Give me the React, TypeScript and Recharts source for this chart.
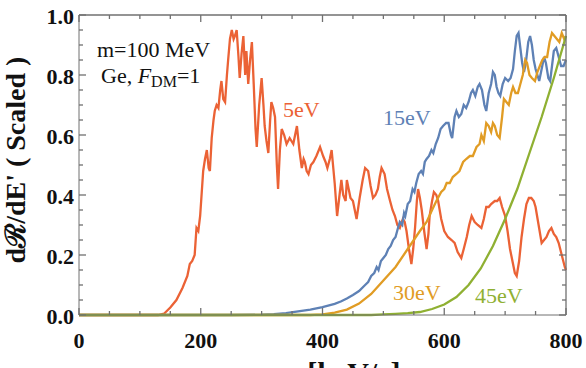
import { LineChart, Line, XAxis, YAxis } from 'recharts';

// [q (keV/c), scaled rate]
const rate5eV: [number, number][] = [
  [0, 0], [100, 0], [130, 0], [140, 0.005], [150, 0.025], [160, 0.05], [170, 0.09], [178, 0.13],
  [182, 0.17], [186, 0.18], [190, 0.2], [193, 0.29], [196, 0.28], [199, 0.33], [202, 0.42], [204, 0.48],
  [207, 0.52], [210, 0.55], [213, 0.49], [215, 0.48], [218, 0.59], [221, 0.65], [223, 0.68], [226, 0.7],
  [229, 0.69], [232, 0.75], [234, 0.78], [237, 0.72], [240, 0.71], [243, 0.8], [245, 0.85], [248, 0.92],
  [251, 0.95], [254, 0.92], [256, 0.93], [259, 0.95], [262, 0.86], [264, 0.79], [267, 0.87], [270, 0.93],
  [273, 0.8], [275, 0.88], [278, 0.77], [281, 0.85], [284, 0.91], [287, 0.77], [290, 0.62], [292, 0.56],
  [296, 0.7], [300, 0.79], [303, 0.7], [305, 0.63], [308, 0.58], [311, 0.54], [314, 0.65], [316, 0.71],
  [319, 0.69], [322, 0.66], [325, 0.5], [327, 0.42], [330, 0.55], [333, 0.62], [337, 0.6], [341, 0.57],
  [346, 0.59], [349, 0.58], [352, 0.57], [355, 0.6], [358, 0.63], [362, 0.55], [366, 0.49], [369, 0.52],
  [371, 0.51], [374, 0.48], [377, 0.47], [381, 0.5], [385, 0.51], [390, 0.53], [396, 0.56], [401, 0.53],
  [405, 0.51], [408, 0.49], [412, 0.52], [415, 0.55], [420, 0.44], [424, 0.33], [428, 0.4], [431, 0.45],
  [434, 0.4], [438, 0.38], [440, 0.45], [443, 0.42], [446, 0.39], [450, 0.38], [456, 0.32], [461, 0.39],
  [466, 0.45], [470, 0.49], [475, 0.48], [479, 0.43], [483, 0.39], [487, 0.4], [491, 0.42], [494, 0.46],
  [497, 0.49], [502, 0.47], [506, 0.42], [511, 0.38], [515, 0.35], [519, 0.33], [523, 0.3], [527, 0.29],
  [532, 0.32], [535, 0.31], [538, 0.28], [542, 0.22], [546, 0.17], [549, 0.22], [552, 0.29], [555, 0.38],
  [557, 0.42], [560, 0.39], [563, 0.35], [567, 0.28], [571, 0.22], [574, 0.27], [576, 0.33], [580, 0.38],
  [583, 0.41], [587, 0.4], [590, 0.38], [595, 0.32], [600, 0.28], [606, 0.26], [612, 0.25], [617, 0.24],
  [622, 0.21], [628, 0.19], [632, 0.22], [637, 0.26], [641, 0.3], [645, 0.33], [650, 0.31], [655, 0.3],
  [661, 0.29], [665, 0.32], [669, 0.36], [673, 0.36], [677, 0.37], [683, 0.38], [687, 0.38], [691, 0.39],
  [695, 0.36], [700, 0.33], [704, 0.28], [708, 0.22], [712, 0.18], [716, 0.14], [719, 0.13], [723, 0.18],
  [727, 0.26], [731, 0.32], [735, 0.37], [739, 0.39], [743, 0.39], [747, 0.38], [750, 0.36], [755, 0.3],
  [760, 0.24], [764, 0.25], [768, 0.26], [772, 0.28], [776, 0.29], [780, 0.27], [784, 0.26], [788, 0.24],
  [793, 0.2], [798, 0.16], [800, 0.15],
];

const rate15eV: [number, number][] = [
  [0, 0], [250, 0], [300, 0.001], [320, 0.003], [340, 0.006], [360, 0.012], [380, 0.018], [400, 0.026],
  [420, 0.037], [430, 0.045], [440, 0.055], [450, 0.067], [460, 0.08], [470, 0.1], [475, 0.11], [480, 0.13],
  [485, 0.14], [489, 0.16], [492, 0.15], [496, 0.18], [500, 0.19], [504, 0.2], [508, 0.22], [512, 0.23],
  [516, 0.25], [520, 0.26], [524, 0.29], [527, 0.31], [531, 0.3], [534, 0.34], [536, 0.33], [540, 0.37],
  [544, 0.38], [548, 0.42], [551, 0.41], [554, 0.44], [558, 0.47], [562, 0.48], [565, 0.47], [568, 0.51],
  [571, 0.52], [575, 0.53], [579, 0.55], [582, 0.54], [586, 0.57], [590, 0.59], [594, 0.62], [598, 0.63],
  [603, 0.64], [607, 0.64], [611, 0.6], [613, 0.59], [617, 0.66], [620, 0.68], [624, 0.66], [628, 0.67],
  [632, 0.7], [636, 0.69], [640, 0.71], [644, 0.74], [647, 0.75], [651, 0.73], [655, 0.76], [658, 0.77],
  [662, 0.75], [666, 0.7], [669, 0.68], [673, 0.74], [677, 0.77], [680, 0.81], [683, 0.8], [686, 0.76],
  [689, 0.74], [692, 0.73], [696, 0.77], [700, 0.79], [705, 0.78], [709, 0.79], [713, 0.82], [716, 0.88],
  [719, 0.93], [722, 0.94], [725, 0.89], [728, 0.84], [731, 0.81], [734, 0.84], [738, 0.91], [741, 0.93],
  [744, 0.9], [747, 0.85], [750, 0.82], [753, 0.8], [756, 0.78], [760, 0.82], [764, 0.86], [767, 0.84],
  [771, 0.79], [774, 0.78], [777, 0.83], [780, 0.88], [784, 0.89], [788, 0.86], [792, 0.83], [796, 0.83],
  [800, 0.85],
];

const rate30eV: [number, number][] = [
  [0, 0], [380, 0], [400, 0.002], [420, 0.008], [440, 0.018], [460, 0.038], [480, 0.07], [500, 0.115],
  [520, 0.16], [540, 0.22], [560, 0.28], [571, 0.31], [580, 0.35], [587, 0.38], [595, 0.41], [600, 0.42],
  [604, 0.44], [609, 0.44], [614, 0.46], [620, 0.47], [625, 0.48], [631, 0.51], [636, 0.52], [642, 0.53],
  [647, 0.53], [653, 0.56], [658, 0.57], [661, 0.6], [665, 0.58], [669, 0.64], [673, 0.63], [677, 0.61],
  [680, 0.64], [683, 0.63], [687, 0.6], [691, 0.59], [695, 0.66], [698, 0.72], [702, 0.71], [706, 0.7],
  [710, 0.74], [713, 0.76], [717, 0.74], [721, 0.74], [725, 0.77], [729, 0.8], [733, 0.85], [736, 0.84],
  [740, 0.8], [744, 0.79], [749, 0.78], [753, 0.81], [757, 0.83], [761, 0.85], [765, 0.86], [769, 0.86],
  [773, 0.91], [777, 0.94], [781, 0.93], [785, 0.92], [789, 0.91], [793, 0.94], [797, 0.92], [800, 0.93],
];

const rate45eV: [number, number][] = [
  [0, 0], [480, 0], [500, 0.002], [520, 0.004], [540, 0.006], [560, 0.01], [580, 0.02], [600, 0.035],
  [620, 0.06], [640, 0.1], [660, 0.155], [680, 0.23], [700, 0.32], [720, 0.42], [740, 0.54], [760, 0.66],
  [780, 0.79], [790, 0.86], [800, 0.93],
];

const xTicks = [0, 50, 100, 150, 200, 250, 300, 350, 400, 450, 500, 550, 600, 650, 700, 750, 800];
const xLabelled = [0, 200, 400, 600, 800];
const yTicks = [0, 0.05, 0.1, 0.15, 0.2, 0.25, 0.3, 0.35, 0.4, 0.45, 0.5, 0.55, 0.6, 0.65, 0.7, 0.75, 0.8, 0.85, 0.9, 0.95, 1];
const yLabelled = [0, 0.2, 0.4, 0.6, 0.8, 1];

const FRAME = '#707070';
const SERIF = 'Liberation Serif, Times New Roman, serif';
const C5 = '#EB6235';
const C15 = '#5E81B5';
const C30 = '#E19C24';
const C45 = '#8FB032';

// plot box size in px, follows from the chart size and margins below
const PLOT_W = 487;
const PLOT_H = 300;

const toRows = (pts: [number, number][]) => pts.map(([q, v]) => ({ q, v }));

const isYLabelled = (v: number) => yLabelled.some((t) => Math.abs(t - v) < 1e-6);

// Mathematica-style frame: inward ticks on all four sides.
// Bottom ticks also draw their mirror on the top edge (and the right edge line at 800).
function BottomTick({ x, y, payload }: any) {
  const major = xLabelled.includes(payload.value);
  const len = major ? 7 : 4;
  const top = y - PLOT_H;
  return (
    <g>
      <line x1={x} x2={x} y1={y} y2={y - len} stroke={FRAME} strokeWidth={1.3} />
      <line x1={x} x2={x} y1={top} y2={top + len} stroke={FRAME} strokeWidth={1.3} />
      {payload.value === 800 && <line x1={x} x2={x} y1={y} y2={top} stroke={FRAME} strokeWidth={1.3} />}
      {major && (
        <text x={x} y={y + 33} textAnchor="middle" fontFamily={SERIF} fontWeight="bold" fontSize={22} fill="#111">
          {payload.value}
        </text>
      )}
    </g>
  );
}

// Left ticks also draw the right-edge ticks (and the top edge line at 1.0).
function LeftTick({ x, y, payload }: any) {
  const major = isYLabelled(payload.value);
  const len = major ? 7 : 4;
  const right = x + PLOT_W;
  return (
    <g>
      <line x1={x} x2={x + len} y1={y} y2={y} stroke={FRAME} strokeWidth={1.3} />
      <line x1={right} x2={right - len} y1={y} y2={y} stroke={FRAME} strokeWidth={1.3} />
      {Math.abs(payload.value - 1) < 1e-6 && <line x1={x} x2={right} y1={y} y2={y} stroke={FRAME} strokeWidth={1.3} />}
      {major && (
        <text x={x - 5} y={y + 8.5} textAnchor="end" fontFamily={SERIF} fontWeight="bold" fontSize={22} fill="#111">
          {payload.value.toFixed(1)}
        </text>
      )}
    </g>
  );
}

const note = (left: number, top: number, color: string, size = 22): React.CSSProperties => ({
  position: 'absolute',
  left,
  top,
  color,
  fontFamily: SERIF,
  fontSize: size,
  lineHeight: 1,
  whiteSpace: 'nowrap',
});

export default function App() {
  return (
    <div style={{ position: 'absolute', left: 0, top: 0, width: 586, height: 368, overflow: 'hidden', background: '#fff' }}>
      <LineChart width={586} height={368} margin={{ top: 15, right: 20, bottom: 0, left: 0 }}>
        <XAxis
          dataKey="q"
          type="number"
          domain={[0, 800]}
          ticks={xTicks}
          interval={0}
          height={53}
          tickSize={0}
          tickMargin={0}
          stroke={FRAME}
          tick={<BottomTick />}
        />
        <YAxis
          type="number"
          domain={[0, 1]}
          ticks={yTicks}
          interval={0}
          width={79}
          tickSize={0}
          tickMargin={0}
          stroke={FRAME}
          tick={<LeftTick />}
        />
        <Line data={toRows(rate5eV)} dataKey="v" type="linear" stroke={C5} strokeWidth={2.3} dot={false} isAnimationActive={false} />
        <Line data={toRows(rate15eV)} dataKey="v" type="linear" stroke={C15} strokeWidth={2.3} dot={false} isAnimationActive={false} />
        <Line data={toRows(rate30eV)} dataKey="v" type="linear" stroke={C30} strokeWidth={2.3} dot={false} isAnimationActive={false} />
        <Line data={toRows(rate45eV)} dataKey="v" type="linear" stroke={C45} strokeWidth={2.3} dot={false} isAnimationActive={false} />
      </LineChart>

      <div style={note(97, 39, '#111')}>m=100 MeV</div>
      <div style={note(101, 65, '#111')}>
        Ge, <i>F</i>
        <span style={{ fontSize: 16, position: 'relative', top: 4 }}>DM</span>=1
      </div>
      <div style={note(283, 99, C5)}>5eV</div>
      <div style={note(383, 107, C15)}>15eV</div>
      <div style={note(393, 282, C30)}>30eV</div>
      <div style={note(475, 285, C45)}>45eV</div>

      <div
        style={{
          position: 'absolute',
          left: 16 - 160,
          top: 160 - 18,
          width: 320,
          height: 36,
          lineHeight: '36px',
          textAlign: 'center',
          transform: 'rotate(-90deg)',
          fontFamily: SERIF,
          fontWeight: 'bold',
          fontSize: 28,
          color: '#111',
          whiteSpace: 'nowrap',
        }}
      >
        dℛ/dE' ( Scaled )
      </div>
      <div style={{ ...note(283, 358, '#111', 30), fontWeight: 'bold' }}>q [keV/c]</div>
    </div>
  );
}
